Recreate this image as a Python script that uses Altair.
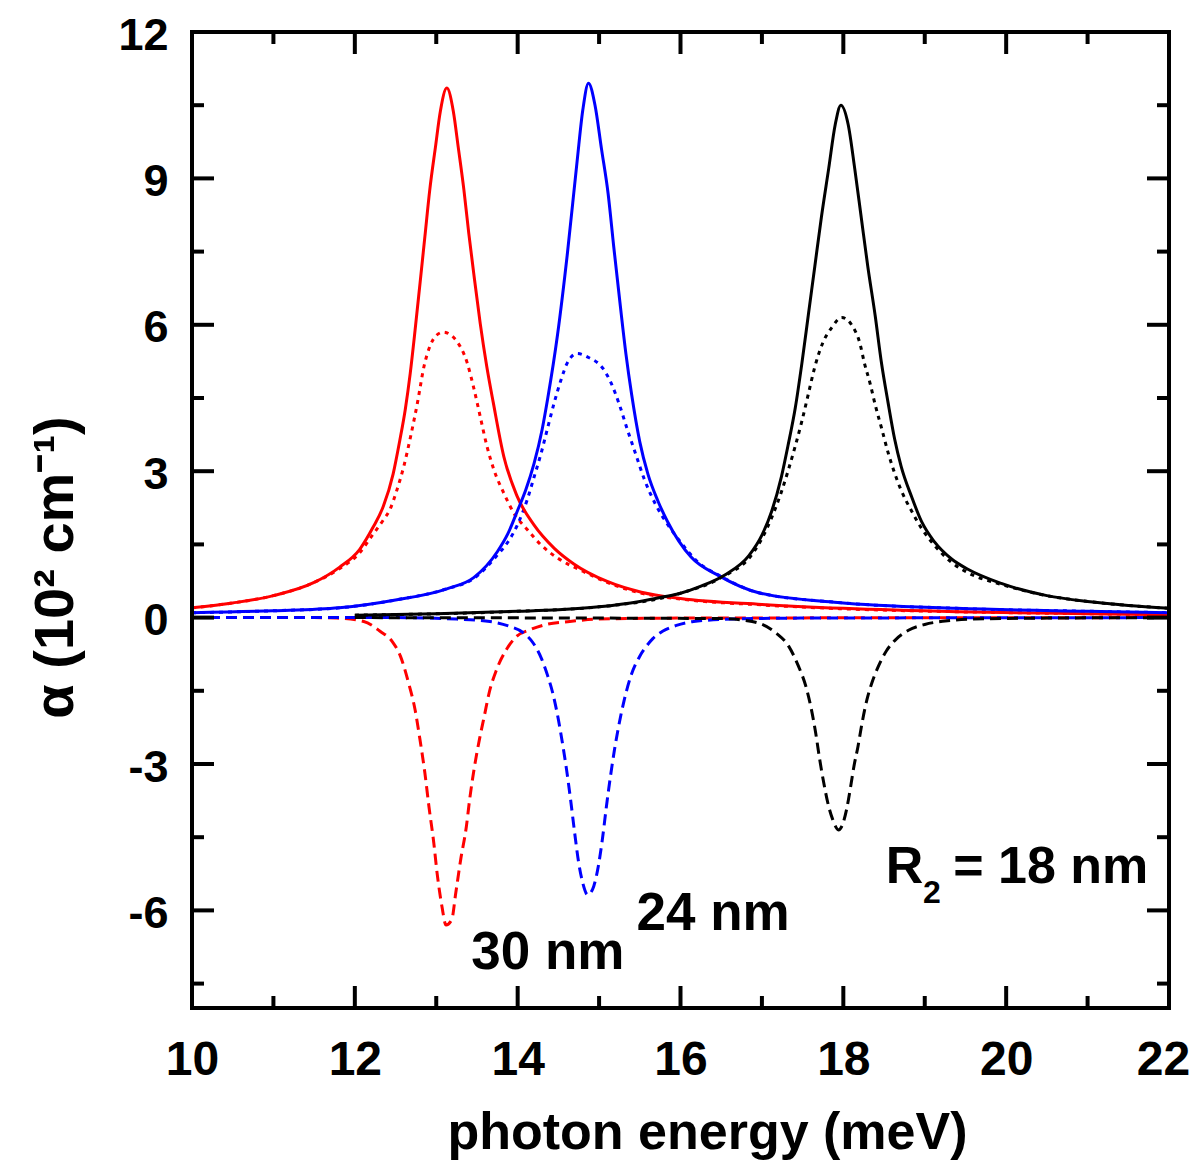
import altair as alt
import pandas as pd

# ---------------- data ----------------
# photon energy (meV) / alpha (10^2 cm^-1)
red_solid_x = [10.0, 10.5, 11.0, 11.5, 11.81, 12.06, 12.22, 12.35, 12.47, 12.55, 12.62, 12.68, 12.74, 12.80, 12.86,
               12.92, 12.99, 13.05, 13.13, 13.21, 13.27, 13.34, 13.40, 13.46, 13.54, 13.62, 13.70, 13.83, 13.99,
               14.2, 14.45, 14.69, 15.1, 15.52, 16.0, 17.0, 18.0, 19.4, 21.0, 22.0]
red_solid_y = [0.2, 0.3, 0.45, 0.72, 1.03, 1.40, 1.84, 2.28, 2.94, 3.61, 4.27, 5.0, 5.89, 6.84, 7.8,
               8.76, 9.64, 10.37, 10.85, 10.37, 9.64, 8.76, 7.87, 7.06, 6.03, 5.15, 4.41, 3.3, 2.5,
               1.9, 1.42, 1.1, 0.74, 0.52, 0.39, 0.27, 0.19, 0.12, 0.08, 0.06]

red_dot_x = [10.0, 10.5, 11.0, 11.5, 11.81, 12.06, 12.22, 12.35, 12.43, 12.51, 12.6, 12.69, 12.77, 12.85, 12.93,
             13.0, 13.09, 13.17, 13.25, 13.38, 13.46, 13.54, 13.62, 13.71, 13.83, 13.95, 14.12, 14.28, 14.49,
             14.8, 15.1, 15.52, 16.0, 17.0, 18.0, 19.4, 21.0, 22.0]
red_dot_y = [0.2, 0.3, 0.45, 0.72, 1.0, 1.33, 1.7, 2.0, 2.21, 2.58, 3.09, 3.75, 4.41, 5.15, 5.59,
             5.78, 5.85, 5.8, 5.67, 5.22, 4.71, 4.12, 3.53, 3.02, 2.55, 2.15, 1.8, 1.5, 1.22,
             0.95, 0.72, 0.5, 0.38, 0.26, 0.18, 0.12, 0.08, 0.06]

red_dash_x = [10.0, 11.5, 11.78, 12.11, 12.31, 12.46, 12.56, 12.66, 12.74, 12.80, 12.86, 12.91, 12.97, 13.01,
              13.07, 13.12, 13.19, 13.24, 13.30, 13.37, 13.41, 13.47, 13.53, 13.59, 13.65, 13.74, 13.86, 13.99,
              14.15, 14.35, 14.64, 14.97, 16.0, 22.0]
red_dash_y = [0.0, 0.0, -0.01, -0.08, -0.28, -0.49, -0.79, -1.34, -1.89, -2.5, -3.18, -3.87, -4.62, -5.23,
              -5.92, -6.3, -6.19, -5.64, -4.96, -4.28, -3.73, -3.05, -2.5, -2.02, -1.54, -1.07, -0.66, -0.38,
              -0.25, -0.14, -0.08, -0.03, -0.01, 0.0]

blue_solid_x = [10.0, 11.0, 11.81, 12.5, 13.13, 13.46, 13.75, 13.88, 14.0, 14.1, 14.2, 14.3, 14.37, 14.49,
                14.61, 14.73, 14.80, 14.87, 14.95, 15.03, 15.11, 15.18, 15.26, 15.33, 15.40, 15.5, 15.6, 15.72,
                15.84, 16.13, 16.47, 16.96, 17.93, 19.39, 21.0, 22.0]
blue_solid_y = [0.1, 0.14, 0.2, 0.36, 0.59, 0.82, 1.35, 1.72, 2.2, 2.62, 3.15, 3.85, 4.5, 5.8,
                7.45, 9.35, 10.4, 10.95, 10.5, 9.6, 8.7, 7.6, 6.4, 5.4, 4.57, 3.6, 2.94, 2.4,
                1.97, 1.24, 0.86, 0.51, 0.31, 0.19, 0.13, 0.1]

blue_dot_x = [10.0, 11.0, 11.81, 12.5, 13.13, 13.46, 13.75, 13.88, 14.0, 14.12, 14.2, 14.29, 14.37, 14.45,
              14.53, 14.61, 14.73, 14.87, 15.05, 15.15, 15.25, 15.35, 15.45, 15.55, 15.7, 15.85, 16.0, 16.2,
              16.5, 16.96, 17.93, 19.39, 21.0, 22.0]
blue_dot_y = [0.1, 0.14, 0.2, 0.36, 0.59, 0.8, 1.28, 1.55, 1.91, 2.43, 2.87, 3.38, 3.9, 4.41,
              4.86, 5.22, 5.41, 5.33, 5.1, 4.8, 4.36, 3.84, 3.35, 2.86, 2.3, 1.89, 1.55, 1.16,
              0.84, 0.51, 0.31, 0.19, 0.13, 0.1]

blue_dash_x = [10.0, 12.5, 13.25, 13.66, 13.90, 14.07, 14.19, 14.29, 14.37, 14.43, 14.50, 14.55, 14.60, 14.65,
               14.70, 14.75, 14.80, 14.86, 14.92, 14.99, 15.04, 15.09, 15.14, 15.19, 15.24, 15.31, 15.39, 15.50,
               15.58, 15.66, 15.78, 15.95, 16.16, 16.66, 17.5, 22.0]
blue_dash_y = [0.0, 0.0, -0.03, -0.08, -0.18, -0.31, -0.52, -0.83, -1.2, -1.54, -2.09, -2.57, -3.11, -3.73,
               -4.41, -5.03, -5.44, -5.68, -5.57, -5.10, -4.55, -3.87, -3.25, -2.70, -2.23, -1.68, -1.2, -0.79,
               -0.59, -0.43, -0.28, -0.16, -0.08, -0.03, -0.01, 0.0]

black_solid_x = [12.0, 13.0, 14.0, 14.5, 15.0, 15.5, 15.75, 16.0, 16.26, 16.55, 16.84, 17.0, 17.12, 17.24,
                 17.32, 17.41, 17.49, 17.57, 17.65, 17.73, 17.82, 17.9, 17.97, 18.06, 18.14, 18.22, 18.3,
                 18.39, 18.47, 18.55, 18.63, 18.71, 18.84, 18.96, 19.12, 19.33, 19.53, 19.94, 20.5, 21.0,
                 21.5, 22.0]
black_solid_y = [0.05, 0.08, 0.13, 0.16, 0.22, 0.33, 0.41, 0.5, 0.65, 0.88, 1.27, 1.69, 2.18, 2.89,
                 3.52, 4.3, 5.2, 6.2, 7.2, 8.2, 9.2, 10.1, 10.5, 10.1, 9.2, 8.2, 7.2,
                 6.2, 5.2, 4.4, 3.66, 3.1, 2.47, 1.97, 1.55, 1.2, 0.99, 0.70, 0.45, 0.33,
                 0.25, 0.19]

black_dot_x = [12.0, 14.0, 15.0, 16.0, 16.5, 16.88, 17.0, 17.12, 17.24, 17.32, 17.41, 17.49, 17.57, 17.65,
               17.75, 17.86, 17.98, 18.12, 18.2, 18.26, 18.33, 18.39, 18.47, 18.55, 18.63, 18.71, 18.84,
               18.96, 19.12, 19.33, 19.53, 19.94, 20.5, 21.0, 21.5, 22.0]
black_dot_y = [0.05, 0.13, 0.22, 0.5, 0.82, 1.3, 1.62, 2.05, 2.58, 3.0, 3.52, 4.02, 4.58, 5.14,
               5.64, 5.95, 6.15, 5.95, 5.64, 5.21, 4.79, 4.37, 3.88, 3.38, 2.96, 2.61, 2.18,
               1.83, 1.48, 1.13, 0.92, 0.68, 0.45, 0.33, 0.25, 0.19]

black_dash_x = [12.0, 16.5, 16.88, 17.17, 17.33, 17.45, 17.54, 17.60, 17.66, 17.71, 17.76, 17.82, 17.87, 17.94,
                17.98, 18.04, 18.09, 18.13, 18.18, 18.23, 18.29, 18.35, 18.43, 18.53, 18.65, 18.8, 19.0,
                19.25, 19.6, 20.5, 22.0]
black_dash_y = [0.0, -0.02, -0.08, -0.31, -0.59, -1.0, -1.41, -1.82, -2.36, -2.91, -3.39, -3.87, -4.14, -4.35,
                -4.28, -3.93, -3.46, -3.05, -2.64, -2.16, -1.68, -1.34, -1.0, -0.68, -0.44, -0.26, -0.14,
                -0.07, -0.03, -0.01, 0.0]

radii = ["30 nm", "24 nm", "18 nm"]
radius_colors = ["#ff0000", "#0000ff", "#000000"]

x_label_values = [10, 12, 14, 16, 18, 20, 22]
x_major_ticks = [12, 14, 16, 18, 20]
x_minor_ticks = [11, 13, 15, 17, 19, 21]
y_label_values = [-6, -3, 0, 3, 6, 9, 12]
y_major_ticks = [-6, -3, 0, 3, 6, 9]
y_minor_ticks = [-7.5, -4.5, -1.5, 1.5, 4.5, 7.5, 10.5]

annot_text = ["30 nm", "24 nm", "R", "2", "= 18 nm"]
annot_x = [13.43, 15.46, 18.52, 18.98, 19.35]
annot_y = [-7.20, -6.40, -5.44, -5.85, -5.44]
annot_size = [53, 53, 52, 32, 52]

# ---------------- build tables ----------------
curves = [
    ("30 nm", "solid", red_solid_x, red_solid_y),
    ("30 nm", "dot", red_dot_x, red_dot_y),
    ("30 nm", "dash", red_dash_x, red_dash_y),
    ("24 nm", "solid", blue_solid_x, blue_solid_y),
    ("24 nm", "dot", blue_dot_x, blue_dot_y),
    ("24 nm", "dash", blue_dash_x, blue_dash_y),
    ("18 nm", "solid", black_solid_x, black_solid_y),
    ("18 nm", "dot", black_dot_x, black_dot_y),
    ("18 nm", "dash", black_dash_x, black_dash_y),
]
rows = []
for r, s, xs, ys in curves:
    for a, b in zip(xs, ys):
        rows.append({"E": a, "alpha": b, "radius": r, "style": s, "curve": r + "|" + s})
df = pd.DataFrame(rows)

annot = pd.DataFrame({"E": annot_x, "alpha": annot_y, "text": annot_text, "fs": annot_size})

W, H = 977, 976
FONT = "'Liberation Sans', Arial, Helvetica, sans-serif"

xscale = alt.Scale(domain=[10, 22], nice=False, zero=False)
yscale = alt.Scale(domain=[-8, 12], nice=False, zero=False)

x_axis = alt.Axis(
    values=x_label_values, format="d", title="photon energy (meV)", grid=False, domain=False,
    ticks=False, tickSize=0, labelFont=FONT, labelFontSize=48, labelFontWeight="bold",
    labelColor="black", labelPadding=66, labelBaseline="alphabetic", labelFlush=False,
    labelOverlap=False,
    labelOffset={"condition": {"test": "datum.value == 22", "value": -6}, "value": 0},
    titleFont=FONT, titleFontSize=52, titleFontWeight="bold",
    titleColor="black", titleX=515, titleY=140, titleAlign="center", titleBaseline="alphabetic",
)
y_axis = alt.Axis(
    values=y_label_values, title="\u03b1  (10\u00b2 cm\u207b\u00b9)", grid=False, domain=False,
    ticks=False, tickSize=0, labelFont=FONT, labelFontSize=45, labelFontWeight="bold",
    labelColor="black", labelPadding=24, labelAlign="right", labelBaseline="alphabetic",
    labelOffset=17, labelFlush=False, labelOverlap=False,
    labelExpr="datum.value < 0 ? '-' + abs(datum.value) : '' + datum.value",
    titleFont=FONT, titleFontSize=56, titleFontWeight="bold", titleColor="black",
    titleAngle=270, titleX=-120, titleY=535, titleAlign="center", titleBaseline="alphabetic",
)

X = alt.X("E:Q", scale=xscale, axis=x_axis)
Y = alt.Y("alpha:Q", scale=yscale, axis=y_axis)
color = alt.Color("radius:N", scale=alt.Scale(domain=radii, range=radius_colors), legend=None)

base = alt.Chart(df)


def curve_layer(style, dash):
    kw = dict(strokeWidth=3, interpolate="monotone", clip=True, strokeCap="butt")
    if dash:
        kw["strokeDash"] = dash
    return base.transform_filter(alt.datum.style == style).mark_line(**kw).encode(
        x=X, y=Y, color=color, detail="curve:N"
    )


layers = [
    curve_layer("dash", [11, 6]),
    curve_layer("dot", [4, 5]),
    curve_layer("solid", None),
]

# inward ticks on all four sides
for vals, ln in [(x_major_ticks, 22), (x_minor_ticks, 12)]:
    t = pd.DataFrame({"E": vals})
    layers.append(alt.Chart(t).mark_rule(color="black", strokeWidth=4).encode(
        x=X, y=alt.value(H), y2=alt.value(H - ln)))
    layers.append(alt.Chart(t).mark_rule(color="black", strokeWidth=4).encode(
        x=X, y=alt.value(0), y2=alt.value(ln)))
for vals, ln in [(y_major_ticks, 22), (y_minor_ticks, 12)]:
    t = pd.DataFrame({"alpha": vals})
    layers.append(alt.Chart(t).mark_rule(color="black", strokeWidth=4).encode(
        y=Y, x=alt.value(0), x2=alt.value(ln)))
    layers.append(alt.Chart(t).mark_rule(color="black", strokeWidth=4).encode(
        y=Y, x=alt.value(W), x2=alt.value(W - ln)))

# plot frame
one = pd.DataFrame({"k": [0]})
frame_specs = [
    dict(x=alt.value(0), x2=alt.value(0), y=alt.value(-2), y2=alt.value(H + 2)),
    dict(x=alt.value(W), x2=alt.value(W), y=alt.value(-2), y2=alt.value(H + 2)),
    dict(x=alt.value(-2), x2=alt.value(W + 2), y=alt.value(0), y2=alt.value(0)),
    dict(x=alt.value(-2), x2=alt.value(W + 2), y=alt.value(H), y2=alt.value(H)),
]
for spec in frame_specs:
    layers.append(alt.Chart(one).mark_rule(color="black", strokeWidth=4).encode(**spec))

layers.append(alt.Chart(annot).mark_text(
    align="left", baseline="alphabetic", font=FONT, fontWeight="bold", color="black"
).encode(x=X, y=Y, text="text:N", size=alt.Size("fs:Q", scale=None, legend=None)))

chart = alt.layer(*layers).properties(
    width=W, height=H,
    autosize=alt.AutoSizeParams(type="none"),
    padding={"left": 184, "top": 24, "right": 23, "bottom": 153},
).configure_view(stroke=None).configure(background="white")

chart.save("out.html", embed_options={"renderer": "svg", "actions": False})
